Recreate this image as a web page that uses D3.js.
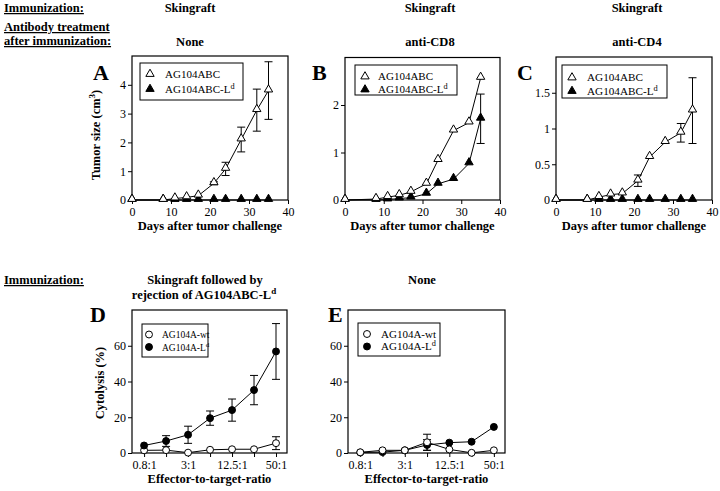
<!DOCTYPE html>
<html><head><meta charset="utf-8">
<script src="https://cdn.jsdelivr.net/npm/d3@7"></script>
<style>
body{margin:0;background:#fff}
svg{display:block}
svg text{font-family:"Liberation Serif","DejaVu Serif","Times New Roman",Times,serif !important;fill:#000}
</style>
</head><body>
<svg id="c" width="720" height="491" font-family="Liberation Serif, DejaVu Serif, serif"></svg>
<script>
// ---------- data ----------
const days = [0, 8, 11, 14, 17, 21, 24, 28, 32, 35];
const dayTicks = [0, 10, 20, 30, 40];

const aOpen      = [0, 0, 0.05, 0.09, 0.15, 0.58, 1.08, 2.1, 3.12, 3.8];
const aOpenErr   = [0, 0, 0, 0, 0, 0.05, 0.23, 0.43, 0.73, 1.0];
const aFilled    = [0, 0, 0, 0, 0, 0, 0, 0, 0, 0];
const aFilledErr = [0, 0, 0, 0, 0, 0, 0, 0, 0, 0];
const aTicks = [0, 1, 2, 3, 4];

const bOpen      = [0, 0.02, 0.06, 0.1, 0.17, 0.34, 0.84, 1.46, 1.63, 2.57];
const bOpenErr   = [0, 0, 0, 0, 0, 0, 0, 0, 0, 0];
const bFilled    = [0, 0, 0.01, 0.03, 0.05, 0.13, 0.34, 0.44, 0.77, 1.71];
const bFilledErr = [0, 0, 0, 0, 0, 0, 0, 0, 0, 0.52];
const bTicks = [0, 1, 2];

const cOpen      = [0, 0, 0.04, 0.075, 0.09, 0.27, 0.6, 0.81, 0.94, 1.25];
const cOpenErr   = [0, 0, 0, 0, 0, 0.08, 0, 0, 0.13, 0.46];
const cFilled    = [0, 0, 0, 0, 0, 0, 0, 0, 0, 0];
const cFilledErr = [0, 0, 0, 0, 0, 0, 0, 0, 0, 0];
const cTicks = [0, 0.5, 1, 1.5];

const ratios      = ["0.8:1", "1.6:1", "3:1", "6.25:1", "12.5:1", "25:1", "50:1"];
const ratioLabels = ["0.8:1", "", "3:1", "", "12.5:1", "", "50:1"];
const cytoTicks = [0, 20, 40, 60];

const dOpen      = [1.5, 1.6, 0.2, 1.8, 2.1, 2.1, 5.5];
const dOpenErr   = [0, 0, 0, 0, 0, 0, 3.6];
const dFilled    = [4.2, 6.7, 10.2, 19.5, 24, 35.2, 56.8];
const dFilledErr = [0, 3, 4.8, 4, 6.2, 8.2, 15.6];

const eOpen      = [0.4, 1.5, 1.5, 6, 2, 0.1, 1.5];
const eOpenErr   = [0, 0, 0, 4.5, 0, 0, 0];
const eFilled    = [0.3, 0.5, 1.5, 4.5, 5.8, 6.3, 14.6];
const eFilledErr = [0, 0, 0, 3, 0, 0, 0];

// ---------- drawing ----------
const FONT = '"Liberation Serif","DejaVu Serif","Times New Roman",Times,serif';
const svg = d3.select('#c');

function label(txt, x, y, opts = {}) {
  const t = svg.append('text').attr('x', x).attr('y', y)
    .style('font-family', FONT)
    .attr('font-size', opts.size || 12.5)
    .attr('font-weight', opts.bold === false ? 'normal' : 'bold')
    .attr('text-anchor', opts.anchor || 'start');
  if (opts.underline) t.attr('text-decoration', 'underline');
  if (opts.sup) {
    t.append('tspan').text(txt);
    t.append('tspan').attr('dy', -5).attr('font-size', (opts.size || 12.5) * 0.72).text(opts.sup);
  } else t.text(txt);
  return t;
}

function panel(cfg) {
  const x = d3.scaleLinear().domain(cfg.xDomain).range([cfg.x0, cfg.x1]);
  const y = d3.scaleLinear().domain(cfg.yDomain).range([cfg.y0, cfg.y1]);
  const g = svg.append('g');

  const xa = d3.axisBottom(x).tickValues(cfg.xTicks).tickSize(4).tickPadding(3)
    .tickFormat(cfg.xFmt);
  const gx = g.append('g').attr('transform', `translate(0,${cfg.y0})`).call(xa);
  const ya = d3.axisLeft(y).tickValues(cfg.yTicks).tickSize(4).tickPadding(2)
    .tickFormat(d3.format('~g'));
  const gy = g.append('g').attr('transform', `translate(${cfg.x0},0)`).call(ya);
  [gx, gy].forEach(a => {
    a.attr('font-family', null);
    a.select('.domain').remove();
    a.selectAll('text').style('font-family', FONT).attr('font-size', 12);
    a.selectAll('line').attr('stroke', '#000');
  });

  g.append('rect').attr('x', cfg.x0).attr('y', cfg.y1)
    .attr('width', cfg.x1 - cfg.x0).attr('height', cfg.y0 - cfg.y1)
    .attr('fill', 'none').attr('stroke', '#000').attr('stroke-width', 1.2);

  const line = d3.line().x(d => x(d[0])).y(d => y(d[1]));
  const sym = cfg.shape === 'tri'
    ? d3.symbol(d3.symbolTriangle, 30)
    : d3.symbol(d3.symbolCircle, 38);

  cfg.series.forEach(s => {
    const pts = cfg.xs.map((xv, i) => [xv, s.v[i], s.e[i]]);
    g.append('path').attr('d', line(pts)).attr('fill', 'none')
      .attr('stroke', '#000').attr('stroke-width', 1);
    pts.filter(p => p[2] > 0).forEach(p => {
      const px = x(p[0]), yt = y(p[1] + p[2]), yb = y(Math.max(p[1] - p[2], 0));
      g.append('line').attr('x1', px).attr('x2', px).attr('y1', yt).attr('y2', yb)
        .attr('stroke', '#000').attr('stroke-width', 1);
      [yt, yb].forEach(yy => g.append('line').attr('x1', px - 4).attr('x2', px + 4)
        .attr('y1', yy).attr('y2', yy).attr('stroke', '#000').attr('stroke-width', 1));
    });
    g.selectAll(null).data(pts).join('path')
      .attr('d', sym)
      .attr('transform', p => `translate(${x(p[0])},${y(p[1]) - (cfg.shape === 'tri' ? 1 : 0)})`)
      .attr('fill', s.filled ? '#000' : '#fff')
      .attr('stroke', '#000').attr('stroke-width', 1);
  });

  const L = cfg.legend;
  g.append('rect').attr('x', L.x).attr('y', L.y).attr('width', L.w).attr('height', L.h)
    .attr('fill', '#fff').attr('stroke', '#000').attr('stroke-width', 1);
  cfg.legendItems.forEach((it, i) => {
    const yy = L.rows[i];
    g.append('path').attr('d', sym).attr('transform', `translate(${L.mx},${yy})`)
      .attr('fill', it.filled ? '#000' : '#fff').attr('stroke', '#000').attr('stroke-width', 1);
    const t = g.append('text').attr('x', L.tx).attr('y', yy + 3.5)
      .style('font-family', FONT).attr('font-size', L.fs);
    t.append('tspan').text(it.name);
    if (it.sup) t.append('tspan').attr('dy', -4).attr('font-size', L.fs * 0.75).text(it.sup);
  });

  label(cfg.letter, cfg.lx, cfg.ly, { size: 22 });
  label(cfg.xTitle, (cfg.x0 + cfg.x1) / 2, cfg.y0 + 30, { anchor: 'middle', size: 12.5 });
  if (cfg.yTitle) {
    const t = svg.append('text').attr('transform', `translate(${cfg.ytx},${cfg.yty}) rotate(-90)`)
      .style('font-family', FONT)
      .attr('text-anchor', 'middle').attr('font-weight', 'bold').attr('font-size', 12.5);
    t.append('tspan').text(cfg.yTitle);
    if (cfg.yTitleSup) {
      t.append('tspan').attr('dy', -5).attr('font-size', 9).text(cfg.yTitleSup);
      t.append('tspan').attr('dy', 5).text(')');
    }
  }
}

const triLegend = [
  { name: 'AG104ABC', filled: false },
  { name: 'AG104ABC-L', sup: 'd', filled: true }
];
const circLegend = [
  { name: 'AG104A-wt', filled: false },
  { name: 'AG104A-L', sup: 'd', filled: true }
];

const topCommon = { xs: days, xDomain: [0, 40], xTicks: dayTicks, xFmt: d3.format('d'),
  y0: 200, shape: 'tri', xTitle: 'Days after tumor challenge', legendItems: triLegend, ly: 80 };

panel(Object.assign({}, topCommon, {
  x0: 132, x1: 288, y1: 56, yDomain: [0, 5], yTicks: aTicks,
  series: [{ v: aFilled, e: aFilledErr, filled: true }, { v: aOpen, e: aOpenErr, filled: false }],
  legend: { x: 140, y: 63, w: 103, h: 37, rows: [74, 89], mx: 150, tx: 165, fs: 11 },
  letter: 'A', lx: 93, yTitle: 'Tumor size (cm', yTitleSup: '3', ytx: 100, yty: 135
}));
panel(Object.assign({}, topCommon, {
  x0: 345, x1: 500, y1: 57.5, yDomain: [0, 3], yTicks: bTicks,
  series: [{ v: bFilled, e: bFilledErr, filled: true }, { v: bOpen, e: bOpenErr, filled: false }],
  legend: { x: 355, y: 65, w: 102, h: 30, rows: [76.5, 89.5], mx: 365, tx: 378, fs: 11 },
  letter: 'B', lx: 312
}));
panel(Object.assign({}, topCommon, {
  x0: 556, x1: 712, y1: 57, yDomain: [0, 2], yTicks: cTicks,
  series: [{ v: cFilled, e: cFilledErr, filled: true }, { v: cOpen, e: cOpenErr, filled: false }],
  legend: { x: 562, y: 65, w: 105, h: 33, rows: [77.5, 91], mx: 572, tx: 587, fs: 11.2 },
  letter: 'C', lx: 517
}));

const botCommon = { xs: d3.range(ratios.length), xDomain: [-0.55, 6.5],
  xTicks: d3.range(ratios.length), xFmt: (d, i) => ratioLabels[i],
  y0: 453, y1: 310, yDomain: [0, 80], yTicks: cytoTicks, shape: 'circ',
  xTitle: 'Effector-to-target-ratio', legendItems: circLegend, ly: 322 };

panel(Object.assign({}, botCommon, {
  x0: 132, x1: 287,
  series: [{ v: dOpen, e: dOpenErr, filled: false }, { v: dFilled, e: dFilledErr, filled: true }],
  legend: { x: 142, y: 324, w: 66, h: 33, rows: [334.5, 347], mx: 149, tx: 162, fs: 9.5 },
  letter: 'D', lx: 90, yTitle: 'Cytolysis (%)', ytx: 104, yty: 383
}));
panel(Object.assign({}, botCommon, {
  x0: 348, x1: 505,
  series: [{ v: eFilled, e: eFilledErr, filled: true }, { v: eOpen, e: eOpenErr, filled: false }],
  legend: { x: 358, y: 323, w: 82, h: 33, rows: [334, 346.5], mx: 367, tx: 381, fs: 11 },
  letter: 'E', lx: 328
}));

// ---------- header texts ----------
label('Immunization:', 4, 12, { underline: true });
label('Antibody treatment', 4, 31, { underline: true });
label('after immunization:', 4, 45, { underline: true });
label('Skingraft', 190, 12, { anchor: 'middle' });
label('Skingraft', 430, 12, { anchor: 'middle' });
label('Skingraft', 637, 12, { anchor: 'middle' });
label('None', 190, 46, { anchor: 'middle' });
label('anti-CD8', 430, 46, { anchor: 'middle' });
label('anti-CD4', 637, 46, { anchor: 'middle' });

label('Immunization:', 4, 284, { underline: true });
label('Skingraft followed by', 205, 284, { anchor: 'middle' });
label('rejection of AG104ABC-L', 204, 299, { anchor: 'middle', sup: 'd' });
label('None', 422, 284, { anchor: 'middle' });
</script>
</body></html>
